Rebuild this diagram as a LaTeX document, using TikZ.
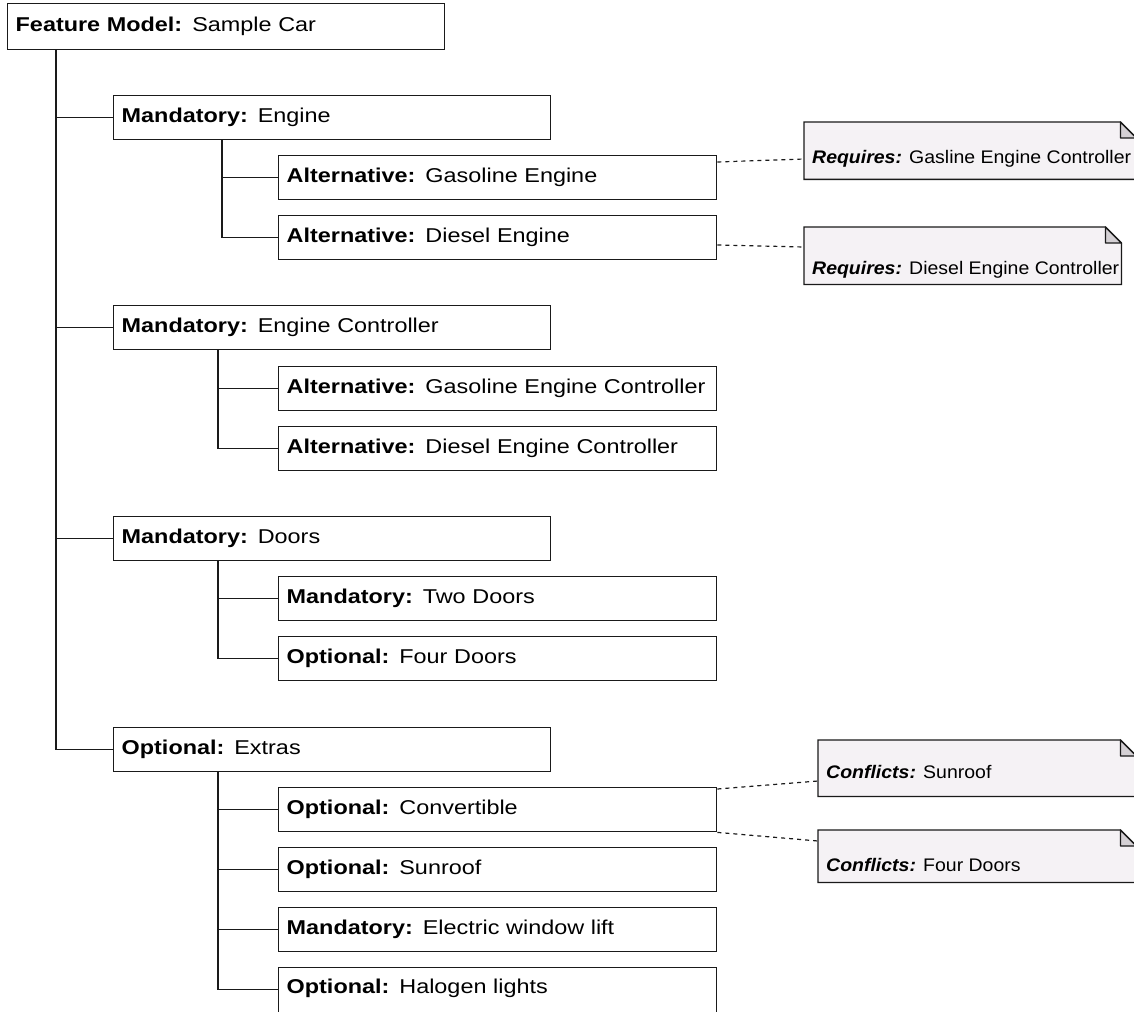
\documentclass[tikz,border=0pt]{standalone}
\usepackage{fontspec}
\setmainfont[FakeStretch=1.17]{Liberation Sans}
\newfontfamily\notefam[FakeStretch=1.07]{Liberation Sans}
\definecolor{notefill}{HTML}{F5F2F5}
\definecolor{foldfill}{HTML}{D4D0D4}
\definecolor{inkc}{HTML}{1A1A1A}
\newcommand\ft[2]{\mbox{\textbf{#1:} #2}}
\tikzset{
  fbox/.style={draw=inkc, line width=1.4pt, anchor=north west, minimum height=44pt,
    text width=#1, align=left, inner xsep=8pt, inner ysep=0pt,
    text height=15pt, text depth=6pt, font=\fontsize{20}{24}\selectfont},
  conn/.style={draw=inkc, line width=1.4pt},
  dashconn/.style={draw=inkc, line width=1.2pt, dash pattern=on 4pt off 4pt},
  notebg/.style={draw=none, fill=none, anchor=north west, inner sep=0pt},
  notepath/.style={draw=inkc, line width=1.3pt, fill=notefill},
  foldpath/.style={draw=inkc, line width=1.3pt, fill=foldfill, line join=round},
  notetext/.style={anchor=base west, inner sep=0pt, font=\notefam\fontsize{18.2}{22}\selectfont},
}
\newcommand\mknote[5]{%
  \node[notebg, minimum width=#4pt, minimum height=#5pt] (#1) at (#2,#3) {};
  \filldraw[notepath] (#1.north west) -- ([xshift=-16pt]#1.north east) -- ([yshift=-16pt]#1.north east) -- (#1.south east) -- (#1.south west) -- cycle;
  \filldraw[foldpath] ([xshift=-16pt]#1.north east) -- ([xshift=-16pt,yshift=-16pt]#1.north east) -- ([yshift=-16pt]#1.north east) -- cycle;
}
\begin{document}
\begin{tikzpicture}[x=1pt, y=-1pt]
\useasboundingbox (0,0) rectangle (1134,1011);
\clip (0,0) rectangle (1134,1011);
% root
\node[fbox=421pt, minimum height=46pt] (root) at (7,3) {\ft{Feature Model}{Sample Car}};
% level 1
\node[fbox=421pt] (engine) at (113,95) {\ft{Mandatory}{Engine}};
\node[fbox=421pt] (ectrl) at (113,305) {\ft{Mandatory}{Engine Controller}};
\node[fbox=421pt] (doors) at (113,516) {\ft{Mandatory}{Doors}};
\node[fbox=421pt] (extras) at (113,727) {\ft{Optional}{Extras}};
% level 2
\node[fbox=422pt] (gas) at (278,155) {\ft{Alternative}{Gasoline Engine}};
\node[fbox=422pt] (diesel) at (278,215) {\ft{Alternative}{Diesel Engine}};
\node[fbox=422pt] (gasc) at (278,366) {\ft{Alternative}{Gasoline Engine Controller}};
\node[fbox=422pt] (dieselc) at (278,426) {\ft{Alternative}{Diesel Engine Controller}};
\node[fbox=422pt] (two) at (278,576) {\ft{Mandatory}{Two Doors}};
\node[fbox=422pt] (four) at (278,636) {\ft{Optional}{Four Doors}};
\node[fbox=422pt] (conv) at (278,787) {\ft{Optional}{Convertible}};
\node[fbox=422pt] (sun) at (278,847) {\ft{Optional}{Sunroof}};
\node[fbox=422pt] (ewl) at (278,907) {\ft{Mandatory}{Electric window lift}};
\node[fbox=422pt, minimum height=52pt, text depth=15pt] (halo) at (278,967) {\ft{Optional}{Halogen lights}};
% trunks
\draw[conn] ([xshift=49pt]root.south west) |- (engine.west);
\draw[conn] ([xshift=49pt]root.south west) |- (ectrl.west);
\draw[conn] ([xshift=49pt]root.south west) |- (doors.west);
\draw[conn] ([xshift=49pt]root.south west) |- (extras.west);
\draw[conn] ([xshift=109pt]engine.south west) |- (gas.west);
\draw[conn] ([xshift=109pt]engine.south west) |- (diesel.west);
\draw[conn] ([xshift=105pt]ectrl.south west) |- (gasc.west);
\draw[conn] ([xshift=105pt]ectrl.south west) |- (dieselc.west);
\draw[conn] ([xshift=105pt]doors.south west) |- (two.west);
\draw[conn] ([xshift=105pt]doors.south west) |- (four.west);
\draw[conn] ([xshift=105pt]extras.south west) |- (conv.west);
\draw[conn] ([xshift=105pt]extras.south west) |- (sun.west);
\draw[conn] ([xshift=105pt]extras.south west) |- (ewl.west);
\draw[conn] ([xshift=105pt]extras.south west) |- ([yshift=4pt]halo.west);
% notes
\mknote{req1}{804}{122}{332}{57}
\mknote{req2}{804}{227}{317}{57}
\mknote{conf1}{818}{740}{318}{56}
\mknote{conf2}{818}{830}{318}{52}
\node[notetext] (req1t) at ([xshift=8pt,yshift=16pt]req1.south west) {\textbf{\textit{Requires:}} Gasline Engine Controller};
\node[notetext] (req2t) at ([xshift=8pt,yshift=10pt]req2.south west) {\textbf{\textit{Requires:}} Diesel Engine Controller};
\node[notetext] (conf1t) at ([xshift=8pt,yshift=18pt]conf1.south west) {\textbf{\textit{Conflicts:}} Sunroof};
\node[notetext] (conf2t) at ([xshift=8pt,yshift=11pt]conf2.south west) {\textbf{\textit{Conflicts:}} Four Doors};
% dashed links
\draw[dashconn] ([yshift=-7pt]gas.north east) -- ([yshift=-37pt]req1.north west);
\draw[dashconn] ([yshift=-30pt]diesel.north east) -- ([yshift=-20pt]req2.north west);
\draw[dashconn] ([yshift=-2pt]conv.north east) -- ([yshift=-41pt]conf1.north west);
\draw[dashconn] (conv.south east) -- ([yshift=-11pt]conf2.north west);
\end{tikzpicture}
\end{document}
